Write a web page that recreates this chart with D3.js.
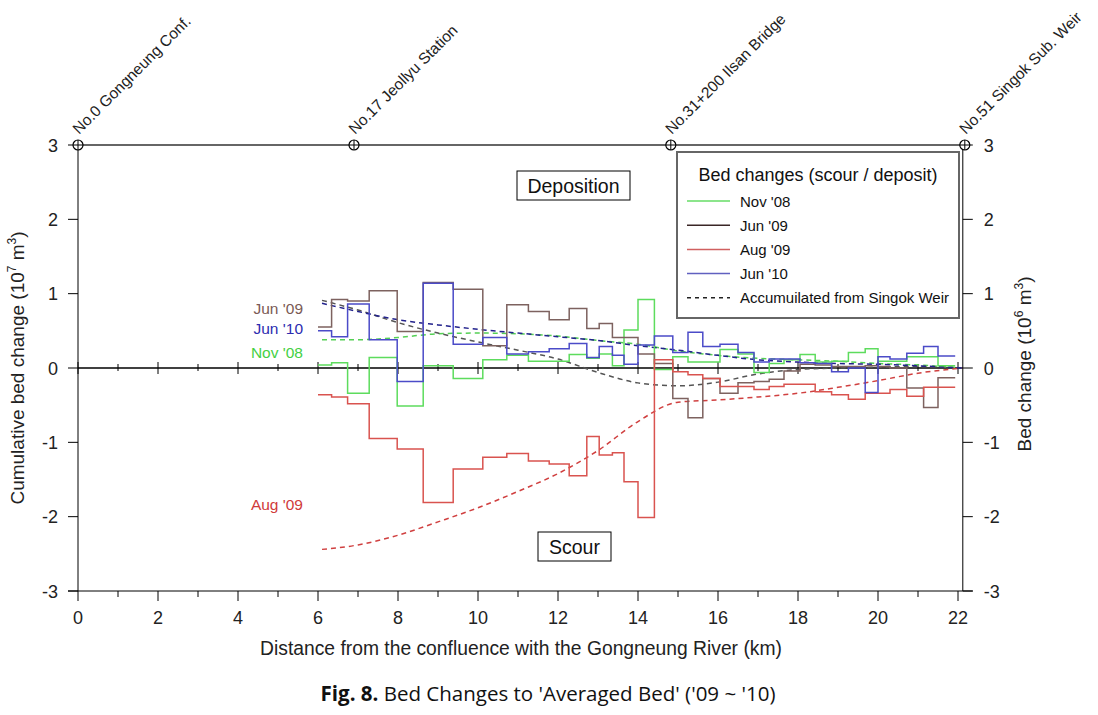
<!DOCTYPE html>
<html><head><meta charset="utf-8">
<script src="https://cdn.jsdelivr.net/npm/d3@7"></script>
<style>
body{margin:0;background:#fff;}
svg text{font-family:"Liberation Sans",Arial,Helvetica,sans-serif;}
</style></head>
<body><svg id="c" width="1098" height="715"></svg>
<script>
// ---- data ----
const boundaries = [6.0,6.34,6.74,7.28,7.98,8.63,9.38,10.12,10.72,11.26,11.78,12.28,12.72,13.03,13.36,13.65,14.0,14.41,14.87,15.25,15.62,16.05,16.5,16.9,17.28,17.65,18.05,18.43,18.84,19.26,19.68,20.0,20.3,20.72,21.14,21.5,21.93];
const nov08 = [0.04,0.07,-0.34,0.14,-0.51,0.03,-0.14,0.11,0.17,0.09,0.09,0.18,0.13,0.19,0.03,0.51,0.92,-0.02,0.15,0.08,0.08,0.25,0.19,-0.06,0.06,0.11,0.18,0.08,0.09,0.21,0.26,0.09,0.09,0.15,0.15,0.03];
const jun09 = [0.55,0.92,0.90,1.04,0.49,1.15,1.06,0.30,0.85,0.76,0.65,0.80,0.53,0.60,0.41,0.41,0.19,0.06,-0.41,-0.67,-0.14,-0.34,-0.20,-0.18,-0.15,-0.04,0.05,0.04,0.02,0.02,0.03,0.02,0.0,-0.27,-0.53,-0.13];
const aug09 = [-0.36,-0.39,-0.48,-0.95,-1.09,-1.81,-1.36,-1.20,-1.15,-1.25,-1.29,-1.45,-0.92,-1.17,-1.14,-1.53,-2.01,0.11,-0.05,-0.09,-0.14,-0.25,-0.25,-0.29,-0.25,-0.22,-0.22,-0.32,-0.36,-0.42,-0.34,-0.34,-0.29,-0.38,-0.26,-0.26];
const jun10 = [0.50,0.42,0.86,0.38,-0.18,1.14,0.32,0.41,0.19,0.22,0.26,0.33,0.14,0.29,0.17,0.05,0.31,0.43,0.21,0.48,0.29,0.32,0.21,0.08,0.12,0.12,0.07,0.06,-0.05,0.0,-0.33,0.15,0.12,0.20,0.29,0.16];

const accumX = [6.1,7,8,9,10,11,12,13,14,15,16,17,18,19,20,21,22.1];
const accNov08 = [0.38,0.38,0.41,0.46,0.47,0.46,0.43,0.37,0.32,0.23,0.17,0.13,0.11,0.09,0.06,0.04,0];
const accJun09 = [0.91,0.78,0.61,0.47,0.35,0.24,0.12,-0.06,-0.20,-0.24,-0.19,-0.08,-0.02,0.0,0.01,0.02,0];
const accAug09 = [-2.44,-2.38,-2.25,-2.07,-1.88,-1.66,-1.42,-1.11,-0.72,-0.46,-0.43,-0.39,-0.34,-0.26,-0.17,-0.07,0];
const accJun10 = [0.87,0.76,0.65,0.58,0.52,0.47,0.42,0.37,0.30,0.24,0.17,0.11,0.08,0.06,0.05,0.03,0];

const xTicks = [0,2,4,6,8,10,12,14,16,18,20,22];
const yTicks = [-3,-2,-1,0,1,2,3];
const stations = ["No.0 Gongneung Conf.","No.17 Jeollyu Station","No.31+200 Ilsan Bridge","No.51 Singok Sub. Weir"];
const stationKm = [0,6.9,14.82,22.17];
const seriesNames = ["Nov '08","Jun '09","Aug '09","Jun '10"];

// ---- layout ----
const svg = d3.select("#c");
const x = d3.scaleLinear().domain([0,22]).range([78,958]);
const y = d3.scaleLinear().domain([-3,3]).range([591,145]);
const xRight = x(22.12);

const stepCol = {nov:"#5ddc5d", jun09:"#7d625f", aug:"#d9534f", jun10:"#4b4bc8"};
const dashCol = {nov:"#55d055", jun09:"#555555", aug:"#d04040", jun10:"#22228c"};

// top station line
svg.append("line").attr("x1",x(0)).attr("x2",x(22.17)).attr("y1",y(3)).attr("y2",y(3))
  .attr("stroke","#666").attr("stroke-width",2);

// axes frame
svg.append("line").attr("x1",x(0)).attr("x2",x(0)).attr("y1",y(3)).attr("y2",y(-3)).attr("stroke","#000");
svg.append("line").attr("x1",xRight).attr("x2",xRight).attr("y1",y(3)).attr("y2",y(-3)).attr("stroke","#000");
svg.append("line").attr("x1",x(0)-10).attr("x2",xRight+10).attr("y1",y(-3)).attr("y2",y(-3)).attr("stroke","#000");

yTicks.forEach(t=>{
  svg.append("line").attr("x1",x(0)-10).attr("x2",x(0)).attr("y1",y(t)).attr("y2",y(t)).attr("stroke","#000");
  svg.append("line").attr("x1",xRight).attr("x2",xRight+10).attr("y1",y(t)).attr("y2",y(t)).attr("stroke","#000");
  svg.append("text").attr("x",x(0)-20).attr("y",y(t)+6.5).attr("text-anchor","end")
    .attr("font-size",18).attr("fill","#222").text(t);
  svg.append("text").attr("x",xRight+21).attr("y",y(t)+6.5).attr("text-anchor","start")
    .attr("font-size",18).attr("fill","#222").text(t);
});

// bottom ticks + zero line ticks
d3.range(0,23).forEach(k=>{
  const major = k%2===0;
  svg.append("line").attr("x1",x(k)).attr("x2",x(k)).attr("y1",y(-3)).attr("y2",y(-3)+(major?10:6)).attr("stroke","#000");
  svg.append("line").attr("x1",x(k)).attr("x2",x(k)).attr("y1",y(0)-(major?6:4)).attr("y2",y(0)+(major?6:3)).attr("stroke","#000");
});
xTicks.forEach(t=>{
  svg.append("text").attr("x",x(t)).attr("y",y(-3)+33).attr("text-anchor","middle")
    .attr("font-size",18).attr("fill","#222").text(t);
});
svg.append("line").attr("x1",x(0)).attr("x2",xRight).attr("y1",y(0)).attr("y2",y(0)).attr("stroke","#000").attr("stroke-width",1.3);

// stations
stations.forEach((s,i)=>{
  const cx = x(stationKm[i]), cy = y(3);
  const g = svg.append("g");
  g.append("circle").attr("cx",cx).attr("cy",cy).attr("r",5).attr("fill","#fff").attr("stroke","#000").attr("stroke-width",1.2);
  g.append("line").attr("x1",cx-5).attr("x2",cx+5).attr("y1",cy).attr("y2",cy).attr("stroke","#000");
  g.append("line").attr("x1",cx).attr("x2",cx).attr("y1",cy-5).attr("y2",cy+5).attr("stroke","#000");
  svg.append("text").attr("transform",`translate(${cx+1},${cy-10}) rotate(-45)`)
    .attr("font-size",15.5).attr("fill","#222").text(s);
});

// titles
svg.append("text").attr("transform",`translate(24,${y(0)}) rotate(-90)`).attr("text-anchor","middle")
  .attr("font-size",19).attr("fill","#222")
  .html('Cumulative bed change (10<tspan dy="-8" font-size="12">7</tspan><tspan dy="8"> m</tspan><tspan dy="-8" font-size="12">3</tspan><tspan dy="8">)</tspan>');
svg.append("text").attr("transform",`translate(1031,${y(0)-4}) rotate(-90)`).attr("text-anchor","middle")
  .attr("font-size",19).attr("fill","#222")
  .html('Bed change (10<tspan dy="-8" font-size="12">6</tspan><tspan dy="8"> m</tspan><tspan dy="-8" font-size="12">3</tspan><tspan dy="8">)</tspan>');
svg.append("text").attr("x",521).attr("y",655).attr("text-anchor","middle").attr("font-size",19.3).attr("fill","#222")
  .text("Distance from the confluence with the Gongneung River (km)");
svg.append("text").attr("x",548).attr("y",701).attr("text-anchor","middle").attr("font-size",20.5)
  .style("font-family","'Open Sans','Noto Sans',sans-serif").attr("fill","#111")
  .html('<tspan font-weight="bold">Fig. 8.</tspan> Bed Changes to \'Averaged Bed\' (\'09 ~ \'10)');

// Deposition / Scour boxes
svg.append("rect").attr("x",517).attr("y",171).attr("width",113).attr("height",29).attr("fill","#fff").attr("stroke","#000");
svg.append("text").attr("x",573.5).attr("y",192.5).attr("text-anchor","middle").attr("font-size",19.5).attr("fill","#111").text("Deposition");
svg.append("rect").attr("x",538).attr("y",532).attr("width",73).attr("height",29).attr("fill","#fff").attr("stroke","#000");
svg.append("text").attr("x",574.5).attr("y",553.5).attr("text-anchor","middle").attr("font-size",19.5).attr("fill","#111").text("Scour");

// series
const step = d3.line().x(d=>x(d[0])).y(d=>y(d[1])).curve(d3.curveStepAfter);
function stepPts(vals){
  const p = vals.map((v,i)=>[boundaries[i],v]);
  p.push([boundaries[boundaries.length-1], vals[vals.length-1]]);
  return p;
}
const smooth = d3.line().x(d=>x(d[0])).y(d=>y(d[1])).curve(d3.curveMonotoneX);
function accPts(vals){ return vals.map((v,i)=>[accumX[i],v]); }

[[accNov08,dashCol.nov],[accJun09,dashCol.jun09],[accAug09,dashCol.aug],[accJun10,dashCol.jun10]].forEach(([v,c])=>{
  svg.append("path").attr("d",smooth(accPts(v))).attr("fill","none").attr("stroke",c)
    .attr("stroke-width",1.5).attr("stroke-dasharray","5,4");
});
[[nov08,stepCol.nov],[jun09,stepCol.jun09],[aug09,stepCol.aug],[jun10,stepCol.jun10]].forEach(([v,c])=>{
  svg.append("path").attr("d",step(stepPts(v))).attr("fill","none").attr("stroke",c).attr("stroke-width",1.5);
});

// side labels
const sideLab = [["Jun '09","#7a5a55",0.80],["Jun '10","#2c2cb0",0.53],["Nov '08","#44d044",0.21],["Aug '09","#d03a3a",-1.83]];
sideLab.forEach(([t,c,v])=>{
  svg.append("text").attr("x",303).attr("y",y(v)+5.5).attr("text-anchor","end").attr("font-size",15.5).attr("fill",c).text(t);
});

// legend
const lg = svg.append("g");
lg.append("rect").attr("x",677).attr("y",152).attr("width",282).attr("height",166).attr("fill","#fff")
  .attr("stroke","#666").attr("stroke-width",2);
lg.append("text").attr("x",818).attr("y",181).attr("text-anchor","middle").attr("font-size",18).attr("fill","#111")
  .text("Bed changes (scour / deposit)");
const legCols = ["#66dd66","#3a2626","#d06060","#6060c0"];
const legItems = seriesNames.concat(["Accumuilated from Singok Weir"]);
legItems.forEach((t,i)=>{
  const yy = 201 + i*24.2;
  lg.append("line").attr("x1",687).attr("x2",730).attr("y1",yy).attr("y2",yy)
    .attr("stroke", i<4?legCols[i]:"#222").attr("stroke-width",1.5)
    .attr("stroke-dasharray", i<4?null:"4,4");
  lg.append("text").attr("x",740).attr("y",yy+5.5).attr("font-size",15).attr("fill","#111").text(t);
});
</script></body></html>
